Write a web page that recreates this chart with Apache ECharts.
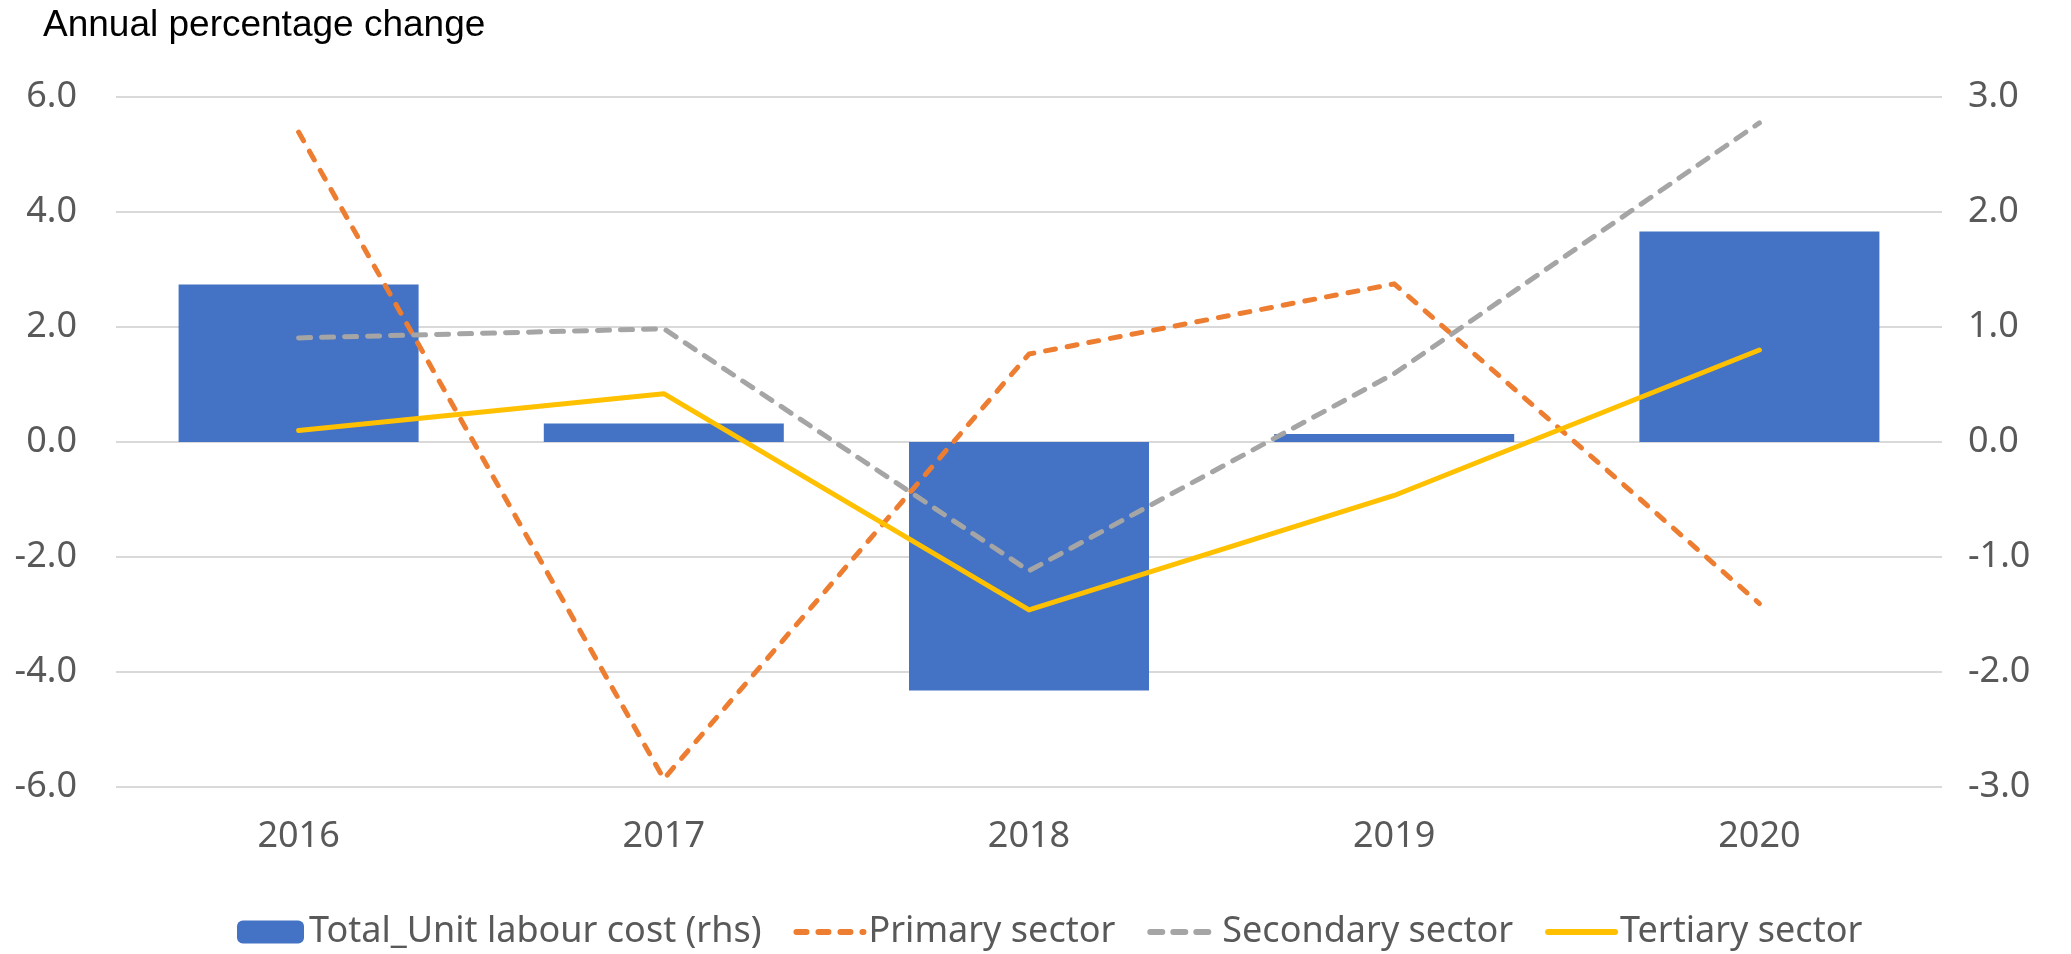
<!DOCTYPE html>
<html>
<head>
<meta charset="utf-8">
<title>Annual percentage change</title>
<script src="https://cdn.jsdelivr.net/npm/echarts@6/dist/echarts.min.js"></script>
<style>
  html, body { margin: 0; padding: 0; background: #fff; }
  #main { width: 2071px; height: 954px; }
</style>
</head>
<body>
<div id="main"></div>
<script>
(function () {
    'use strict';

    // data
    var years = ['2016', '2017', '2018', '2019', '2020'];
    var totalUnitLabourCost = [1.37, 0.16, -2.16, 0.07, 1.83]; // rhs
    var primarySector = [5.39, -5.86, 1.53, 2.75, -2.81];
    var secondarySector = [1.81, 1.97, -2.24, 1.19, 5.55];
    var tertiarySector = [0.2, 0.84, -2.92, -0.93, 1.6];

    var labelFont = "'Noto Sans', sans-serif";
    var labelColor = '#595959';

    var myChart = echarts.init(document.getElementById('main'));

    // line items in the legend: hide the marker dot, keep a thick line
    function lineLegendItem(name) {
        return { name: name, itemStyle: { opacity: 0 }, lineStyle: { width: 6 } };
    }

    var option = {
        animation: false,
        backgroundColor: '#ffffff',
        // axis title as plain text in the top-left corner
        graphic: [
            {
                type: 'text',
                x: 43,
                y: 7,
                style: {
                    text: 'Annual percentage change',
                    font: "normal 37px 'Liberation Sans', Arial, sans-serif",
                    fill: '#000000',
                    textAlign: 'left',
                    textVerticalAlign: 'top'
                }
            }
        ],
        legend: {
            left: 237,
            top: 914,
            padding: 0,
            itemWidth: 67,
            itemHeight: 23,
            itemGap: 32,
            textStyle: {
                fontFamily: labelFont,
                fontSize: 36,
                color: labelColor
            },
            data: [
                'Total_Unit labour cost (rhs)',
                lineLegendItem('Primary sector'),
                lineLegendItem('Secondary sector'),
                lineLegendItem('Tertiary sector')
            ]
        },
        grid: {
            left: 116,
            right: 129,
            top: 97,
            bottom: 167
        },
        xAxis: {
            type: 'category',
            data: years,
            boundaryGap: true,
            axisLine: { show: false, onZero: false },
            axisTick: { show: false },
            axisLabel: {
                margin: 32,
                fontFamily: labelFont,
                fontSize: 36,
                color: labelColor
            }
        },
        yAxis: [
            {
                type: 'value',
                min: -6,
                max: 6,
                interval: 2,
                axisLine: { show: false },
                axisTick: { show: false },
                splitLine: { lineStyle: { color: '#d9d9d9', width: 2 } },
                axisLabel: {
                    margin: 39,
                    fontFamily: labelFont,
                    fontSize: 36,
                    color: labelColor,
                    formatter: function (v) { return v.toFixed(1); }
                }
            },
            {
                type: 'value',
                min: -3,
                max: 3,
                interval: 1,
                axisLine: { show: false },
                axisTick: { show: false },
                splitLine: { show: false },
                axisLabel: {
                    margin: 26,
                    fontFamily: labelFont,
                    fontSize: 36,
                    color: labelColor,
                    formatter: function (v) { return v.toFixed(1); }
                }
            }
        ],
        series: [
            {
                name: 'Total_Unit labour cost (rhs)',
                type: 'bar',
                yAxisIndex: 1,
                barWidth: 240,
                itemStyle: { color: '#4472C4' },
                data: totalUnitLabourCost
            },
            {
                name: 'Primary sector',
                type: 'line',
                symbol: 'none',
                itemStyle: { color: '#ED7D31' },
                lineStyle: { color: '#ED7D31', width: 5, type: [10, 12], cap: 'round', join: 'round' },
                data: primarySector
            },
            {
                name: 'Secondary sector',
                type: 'line',
                symbol: 'none',
                itemStyle: { color: '#A5A5A5' },
                lineStyle: { color: '#A5A5A5', width: 5, type: [12, 11], cap: 'round', join: 'round' },
                data: secondarySector
            },
            {
                name: 'Tertiary sector',
                type: 'line',
                symbol: 'none',
                itemStyle: { color: '#FFC000' },
                lineStyle: { color: '#FFC000', width: 5, cap: 'round', join: 'round' },
                data: tertiarySector
            }
        ]
    };

    myChart.setOption(option, true);
}());
</script>
</body>
</html>
